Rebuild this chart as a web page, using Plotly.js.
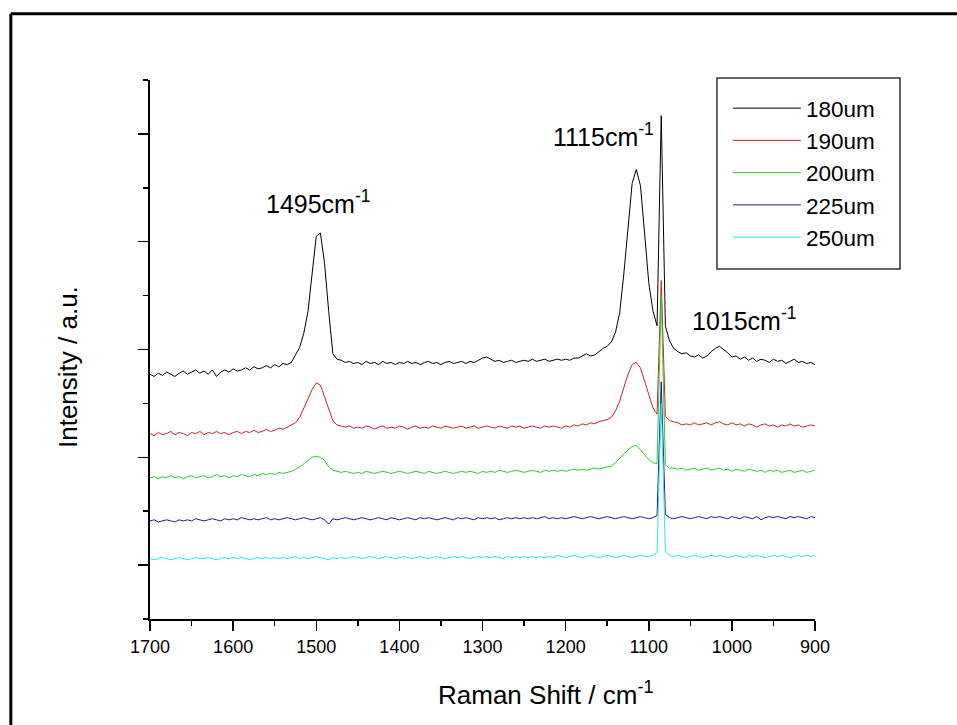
<!DOCTYPE html>
<html>
<head>
<meta charset="utf-8">
<script src="https://cdn.plot.ly/plotly-3.0.1.min.js"></script>
<style>
html,body{margin:0;padding:0;background:#fff;}
#chart{width:957px;height:725px;}
</style>
</head>
<body>
<div id="chart"></div>
<script>
// Raman shift (cm^-1)
var ramanShift = [
1700,1695,1690,1685,1680,1675,1670,1665,1660,1655,
1650,1645,1640,1635,1630,1625,1620,1615,1610,1605,
1600,1595,1590,1585,1580,1575,1570,1565,1560,1555,
1550,1545,1540,1535,1530,1525,1520,1515,1510,1505,
1500,1495,1490,1485,1480,1475,1470,1465,1460,1455,
1450,1445,1440,1435,1430,1425,1420,1415,1410,1405,
1400,1395,1390,1385,1380,1375,1370,1365,1360,1355,
1350,1345,1340,1335,1330,1325,1320,1315,1310,1305,
1300,1295,1290,1285,1280,1275,1270,1265,1260,1255,
1250,1245,1240,1235,1230,1225,1220,1215,1210,1205,
1200,1195,1190,1185,1180,1175,1170,1165,1160,1155,
1150,1145,1140,1135,1130,1125,1120,1115,1110,1105,
1100,1095,1090,1085,1080,1075,1070,1065,1060,1055,
1050,1045,1040,1035,1030,1025,1020,1015,1010,1005,
1000,995,990,985,980,975,970,965,960,955,
950,945,940,935,930,925,920,915,910,905,
900];

var s180um = [
2.27,2.25,2.28,2.26,2.29,2.27,2.25,2.28,2.30,2.27,
2.29,2.31,2.28,2.30,2.27,2.31,2.25,2.29,2.31,2.29,
2.32,2.30,2.31,2.33,2.31,2.34,2.32,2.33,2.35,2.33,
2.36,2.34,2.37,2.36,2.38,2.45,2.52,2.65,2.85,3.20,
3.55,3.58,3.30,2.85,2.46,2.41,2.40,2.38,2.39,2.37,
2.38,2.36,2.39,2.37,2.38,2.36,2.39,2.37,2.38,2.36,
2.38,2.37,2.39,2.37,2.38,2.36,2.38,2.39,2.37,2.38,
2.36,2.38,2.39,2.37,2.38,2.39,2.37,2.39,2.38,2.40,
2.42,2.43,2.41,2.39,2.40,2.38,2.39,2.40,2.38,2.39,
2.40,2.39,2.41,2.39,2.40,2.41,2.39,2.40,2.41,2.40,
2.41,2.40,2.42,2.42,2.44,2.46,2.44,2.45,2.48,2.51,
2.53,2.57,2.66,2.84,3.20,3.64,4.04,4.17,4.02,3.58,
3.12,2.86,2.72,4.67,2.72,2.58,2.51,2.48,2.46,2.47,
2.44,2.43,2.45,2.42,2.44,2.48,2.51,2.53,2.50,2.47,
2.43,2.44,2.41,2.43,2.40,2.42,2.39,2.41,2.40,2.38,
2.41,2.39,2.40,2.37,2.39,2.41,2.38,2.39,2.37,2.38,
2.36];

var s190um = [
1.72,1.70,1.73,1.71,1.72,1.74,1.71,1.73,1.72,1.70,
1.73,1.72,1.74,1.71,1.73,1.72,1.74,1.72,1.73,1.71,
1.73,1.74,1.72,1.74,1.73,1.75,1.73,1.74,1.76,1.74,
1.75,1.77,1.76,1.78,1.80,1.82,1.87,1.95,2.04,2.13,
2.19,2.17,2.06,1.93,1.84,1.80,1.79,1.78,1.79,1.77,
1.78,1.77,1.79,1.78,1.76,1.78,1.79,1.77,1.78,1.77,
1.79,1.78,1.76,1.78,1.79,1.77,1.78,1.77,1.79,1.78,
1.77,1.79,1.78,1.77,1.78,1.79,1.77,1.78,1.79,1.77,
1.78,1.79,1.78,1.77,1.79,1.78,1.77,1.79,1.78,1.79,
1.77,1.78,1.79,1.78,1.77,1.79,1.78,1.79,1.78,1.77,
1.79,1.78,1.80,1.79,1.81,1.80,1.82,1.81,1.83,1.84,
1.85,1.87,1.93,2.02,2.15,2.27,2.36,2.38,2.33,2.20,
2.07,1.96,1.90,3.14,1.88,1.84,1.83,1.82,1.80,1.81,
1.80,1.82,1.80,1.81,1.82,1.80,1.82,1.83,1.81,1.80,
1.82,1.80,1.81,1.79,1.81,1.80,1.78,1.80,1.81,1.79,
1.80,1.78,1.80,1.79,1.81,1.79,1.80,1.78,1.79,1.80,
1.79];

var s200um = [
1.31,1.32,1.30,1.32,1.31,1.33,1.31,1.32,1.30,1.32,
1.33,1.31,1.32,1.33,1.31,1.32,1.34,1.32,1.33,1.31,
1.33,1.32,1.34,1.33,1.32,1.34,1.33,1.35,1.34,1.35,
1.34,1.36,1.35,1.36,1.37,1.39,1.41,1.44,1.47,1.50,
1.51,1.50,1.47,1.41,1.38,1.37,1.36,1.37,1.36,1.35,
1.36,1.35,1.37,1.36,1.35,1.36,1.37,1.36,1.35,1.36,
1.37,1.36,1.35,1.36,1.37,1.36,1.35,1.37,1.36,1.35,
1.36,1.37,1.36,1.35,1.36,1.37,1.36,1.37,1.36,1.35,
1.37,1.36,1.37,1.36,1.38,1.37,1.36,1.37,1.38,1.37,
1.36,1.37,1.38,1.37,1.36,1.38,1.37,1.38,1.37,1.38,
1.37,1.38,1.39,1.38,1.39,1.38,1.39,1.40,1.39,1.40,
1.41,1.42,1.45,1.49,1.53,1.57,1.60,1.61,1.57,1.52,
1.48,1.45,1.44,3.00,1.43,1.40,1.40,1.39,1.40,1.38,
1.39,1.40,1.38,1.39,1.40,1.38,1.39,1.40,1.38,1.39,
1.37,1.39,1.38,1.37,1.39,1.38,1.37,1.38,1.36,1.38,
1.37,1.38,1.36,1.37,1.38,1.36,1.37,1.38,1.36,1.37,
1.38];

var s225um = [
0.91,0.92,0.90,0.91,0.92,0.91,0.90,0.92,0.91,0.92,
0.91,0.93,0.92,0.91,0.92,0.93,0.92,0.91,0.93,0.92,
0.93,0.92,0.94,0.93,0.92,0.93,0.92,0.93,0.94,0.92,
0.93,0.92,0.93,0.94,0.93,0.92,0.93,0.94,0.93,0.92,
0.93,0.94,0.92,0.88,0.93,0.92,0.93,0.94,0.93,0.92,
0.93,0.94,0.93,0.92,0.93,0.94,0.93,0.92,0.94,0.93,
0.92,0.93,0.94,0.93,0.92,0.94,0.93,0.94,0.93,0.92,
0.93,0.94,0.93,0.92,0.94,0.93,0.94,0.93,0.92,0.94,
0.93,0.94,0.93,0.94,0.92,0.93,0.94,0.93,0.94,0.93,
0.94,0.93,0.94,0.93,0.94,0.95,0.93,0.94,0.93,0.94,
0.93,0.94,0.95,0.94,0.93,0.94,0.95,0.94,0.93,0.94,
0.95,0.94,0.93,0.94,0.95,0.94,0.93,0.94,0.95,0.94,
0.93,0.94,0.96,2.20,0.97,0.94,0.93,0.94,0.95,0.94,
0.93,0.94,0.95,0.94,0.93,0.95,0.94,0.95,0.94,0.93,
0.95,0.94,0.93,0.95,0.94,0.93,0.95,0.92,0.94,0.95,
0.94,0.95,0.94,0.93,0.95,0.94,0.95,0.94,0.93,0.95,
0.94];

var s250um = [
0.56,0.55,0.56,0.57,0.56,0.55,0.56,0.57,0.56,0.55,
0.56,0.57,0.56,0.56,0.57,0.56,0.55,0.56,0.57,0.56,
0.57,0.56,0.57,0.56,0.55,0.56,0.57,0.56,0.57,0.56,
0.57,0.56,0.57,0.56,0.57,0.58,0.56,0.57,0.56,0.57,
0.58,0.57,0.56,0.55,0.57,0.56,0.57,0.56,0.57,0.58,
0.57,0.56,0.57,0.58,0.57,0.56,0.57,0.58,0.57,0.56,
0.57,0.58,0.57,0.56,0.57,0.58,0.57,0.56,0.57,0.58,
0.57,0.56,0.57,0.58,0.57,0.58,0.57,0.56,0.57,0.58,
0.57,0.58,0.57,0.58,0.57,0.56,0.58,0.57,0.58,0.57,
0.58,0.57,0.58,0.57,0.58,0.57,0.58,0.57,0.59,0.58,
0.57,0.58,0.59,0.58,0.57,0.58,0.59,0.58,0.57,0.58,
0.59,0.58,0.57,0.58,0.59,0.58,0.57,0.58,0.59,0.58,
0.58,0.59,0.62,2.00,0.63,0.59,0.58,0.59,0.58,0.57,
0.58,0.59,0.58,0.57,0.58,0.59,0.58,0.59,0.58,0.57,
0.58,0.59,0.58,0.57,0.59,0.58,0.59,0.58,0.57,0.58,
0.59,0.58,0.59,0.58,0.57,0.58,0.59,0.58,0.59,0.58,
0.59];

var seriesNames = ['180um','190um','200um','225um','250um'];
var seriesColors = ['#000000','#d42020','#2ecc2e','#1c1c9c','#2ee6e6'];
var seriesValues = [s180um, s190um, s200um, s225um, s250um];

var xTickVals = [1700,1600,1500,1400,1300,1200,1100,1000,900];
var xTickText = ['1700','1600','1500','1400','1300','1200','1100','1000','900'];

var peakLabels = ['1495cm<sup>-1</sup>','1115cm<sup>-1</sup>','1015cm<sup>-1</sup>'];
var peakLabelX = [1497, 1154, 985];
var peakLabelY = [3.87, 4.49, 2.78];

var FONT = 'Liberation Sans, Arial, Helvetica, sans-serif';

var traces = seriesNames.map(function(name, k){
  return {
    type: 'scatter', mode: 'lines', name: name,
    x: ramanShift, y: seriesValues[k],
    line: {color: seriesColors[k], width: 1},
    hoverinfo: 'skip'
  };
});

var annotations = peakLabels.map(function(t, k){
  return {
    text: t, x: peakLabelX[k], y: peakLabelY[k], xref: 'x', yref: 'y',
    showarrow: false, xanchor: 'center', yanchor: 'middle',
    font: {family: FONT, size: 25, color: '#000'}
  };
});
annotations.push({
  text: 'Raman Shift / cm<sup>-1</sup>', xref: 'paper', yref: 'paper',
  x: 0.5955, y: -0.139, showarrow: false, xanchor: 'center', yanchor: 'middle',
  font: {family: FONT, size: 26, color: '#000'}
});
annotations.push({
  text: 'Intensity / a.u.', xref: 'paper', yref: 'paper',
  x: -0.1233, y: 0.4675, showarrow: false, xanchor: 'center', yanchor: 'middle',
  textangle: -90,
  font: {family: FONT, size: 26, color: '#000'}
});

var layout = {
  width: 957, height: 725,
  margin: {l: 150, r: 142, t: 80, b: 106, pad: 0},
  paper_bgcolor: '#fff', plot_bgcolor: '#fff',
  showlegend: true,
  legend: {
    x: 0.869, y: 0.9870, xanchor: 'left', yanchor: 'top',
    bgcolor: 'rgba(0,0,0,0)', borderwidth: 0,
    font: {family: FONT, size: 22.5, color: '#000'},
    itemwidth: 68, tracegroupgap: 0
  },
  xaxis: {
    range: [1700, 900], autorange: false,
    tickmode: 'array', tickvals: xTickVals, ticktext: xTickText,
    ticks: 'outside', ticklen: 10, tickwidth: 1.5, tickcolor: '#000',
    minor: {dtick: 50, tick0: 0, ticks: 'outside', ticklen: 5, tickwidth: 1.5, tickcolor: '#000'},
    showline: true, linecolor: '#000', linewidth: 2, mirror: false,
    showgrid: false, zeroline: false,
    tickfont: {family: FONT, size: 18, color: '#000'}
  },
  yaxis: {
    range: [0, 5], autorange: false,
    tickmode: 'linear', tick0: 0.5, dtick: 1,
    ticks: 'outside', ticklen: 10, tickwidth: 1.5, tickcolor: '#000',
    minor: {dtick: 1, tick0: 0, ticks: 'outside', ticklen: 5, tickwidth: 1.5, tickcolor: '#000'},
    showticklabels: false,
    showline: true, linecolor: '#000', linewidth: 2, mirror: false,
    showgrid: false, zeroline: false
  },
  annotations: annotations,
  shapes: [
    {type: 'rect', xref: 'paper', yref: 'paper', x0: 0.8526, x1: 1.1278, y0: 0.6494, y1: 1.0037,
     line: {color: '#333', width: 1.5}, fillcolor: 'rgba(0,0,0,0)'},
    {type: 'line', xref: 'paper', yref: 'paper', x0: -0.2093, x1: 1.22, y0: 1.1230, y1: 1.1230,
     line: {color: '#000', width: 3}},
    {type: 'line', xref: 'paper', yref: 'paper', x0: -0.2093, x1: -0.2093, y0: 1.1230, y1: -0.21,
     line: {color: '#000', width: 3}}
  ],
  hovermode: false
};

Plotly.newPlot('chart', traces, layout, {displayModeBar: false, staticPlot: true});
</script>
</body>
</html>
